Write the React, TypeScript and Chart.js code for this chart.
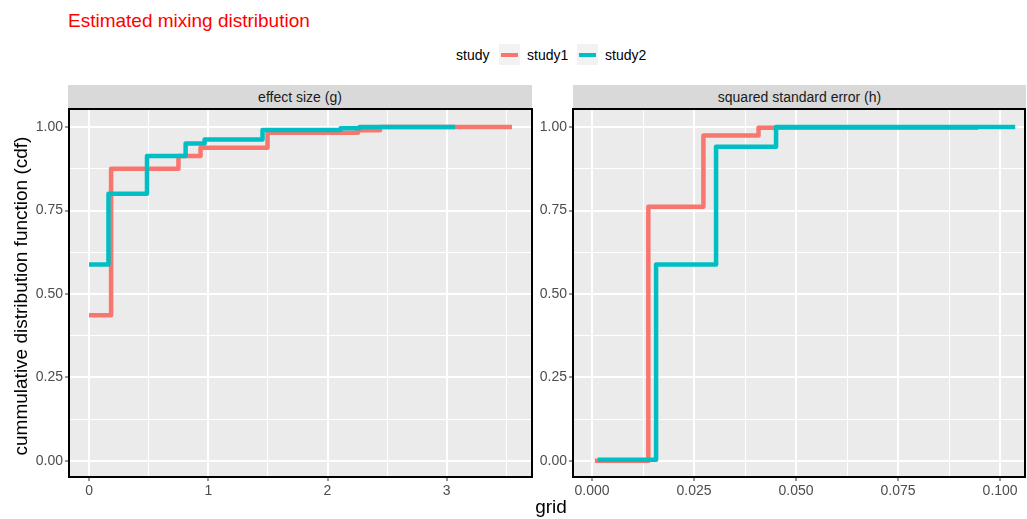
import React, { useEffect, useRef } from "react";
import { Chart, registerables } from "chart.js";

Chart.register(...registerables);

// ---------- data ----------
const TITLE = "Estimated mixing distribution";
const LEGEND_TITLE = "study";
const SERIES_NAMES = ["study1", "study2"];
const SERIES_COLORS = ["#F8766D", "#00BFC4"];
const PANEL_TITLES = ["effect size (g)", "squared standard error (h)"];
const X_TITLE = "grid";
const Y_TITLE = "cummulative distribution function (cdf)";

// effect size (g) panel
const gStudy1X = [0, 0.185, 0.75, 0.935, 1.497, 2.255, 2.44, 3.547];
const gStudy1Y = [0.436, 0.875, 0.913, 0.938, 0.983, 0.99, 1.0, 1.0];
const gStudy2X = [0, 0.163, 0.486, 0.81, 0.969, 1.455, 2.11, 2.27, 3.07];
const gStudy2Y = [0.588, 0.8, 0.913, 0.951, 0.963, 0.991, 0.996, 1.0, 1.0];

// squared standard error (h) panel
const hStudy1X = [0.0007, 0.0138, 0.0273, 0.0408, 0.0946];
const hStudy1Y = [0.001, 0.761, 0.975, 0.998, 0.998];
const hStudy2X = [0.0014, 0.0157, 0.0304, 0.0451, 0.1037];
const hStudy2Y = [0.004, 0.588, 0.941, 1.0, 1.0];

// ticks
const gXMajor = [0, 1, 2, 3];
const gXMajorLabels = ["0", "1", "2", "3"];
const gXMinor = [0.5, 1.5, 2.5, 3.5];
const hXMajor = [0, 0.025, 0.05, 0.075, 0.1];
const hXMajorLabels = ["0.000", "0.025", "0.050", "0.075", "0.100"];
const hXMinor = [0.0125, 0.0375, 0.0625, 0.0875];
const yMajor = [0, 0.25, 0.5, 0.75, 1];
const yMajorLabels = ["0.00", "0.25", "0.50", "0.75", "1.00"];
const yMinor = [0.125, 0.375, 0.625, 0.875];

const gXRange = [-0.168, 3.715];
const hXRange = [-0.00466, 0.1061];
const yRange = [-0.048, 1.054];

const FONT = "'Liberation Sans', Arial, Helvetica, sans-serif";

function pts(xs: number[], ys: number[]) {
  return xs.map((x, i) => ({ x, y: ys[i] }));
}

function findLabel(v: number, majors: number[], labels: string[]) {
  const i = majors.findIndex((m) => Math.abs(m - v) < 1e-9);
  return i >= 0 ? labels[i] : "";
}

function isMajor(v: number, majors: number[]) {
  return majors.some((m) => Math.abs(m - v) < 1e-9);
}

const panelPlugin = {
  id: "panelBg",
  beforeDraw(chart: any) {
    const { ctx, chartArea: a } = chart;
    ctx.save();
    ctx.fillStyle = "#EBEBEB";
    ctx.fillRect(a.left, a.top, a.right - a.left, a.bottom - a.top);
    ctx.restore();
  },
  afterDraw(chart: any) {
    const { ctx, chartArea: a } = chart;
    ctx.save();
    ctx.strokeStyle = "#000000";
    ctx.lineWidth = 2;
    ctx.strokeRect(a.left, a.top, a.right - a.left, a.bottom - a.top);
    ctx.restore();
  },
};

type PanelProps = {
  left: number;
  width: number;
  yAxisWidth: number;
  padRight: number;
  s1: { x: number; y: number }[];
  s2: { x: number; y: number }[];
  xRange: number[];
  xMajor: number[];
  xMinor: number[];
  xLabels: string[];
};

function Panel(p: PanelProps) {
  const ref = useRef<HTMLCanvasElement | null>(null);
  const TOP = 104;
  const HEIGHT = 396;
  useEffect(() => {
    if (!ref.current) return;
    const xTicks = [...p.xMajor, ...p.xMinor].sort((a, b) => a - b);
    const yTicks = [...yMajor, ...yMinor].sort((a, b) => a - b);
    const gridStyle = (majors: number[]) => ({
      color: "#FFFFFF",
      lineWidth: (c: any) => (c.tick && isMajor(c.tick.value, majors) ? 2 : 1),
      tickColor: (c: any) =>
        c.tick && isMajor(c.tick.value, majors) ? "#333333" : "rgba(0,0,0,0)",
      tickWidth: 1,
      tickLength: 4,
      drawTicks: true,
    });
    const ds = (i: number, data: { x: number; y: number }[]) => ({
      label: SERIES_NAMES[i],
      data,
      borderColor: SERIES_COLORS[i],
      backgroundColor: SERIES_COLORS[i],
      borderWidth: 4.5,
      stepped: "before",
      pointRadius: 0,
      fill: false,
      borderCapStyle: "butt",
      borderJoinStyle: "round",
      order: i === 0 ? 1 : 0,
    });
    const chart = new Chart(ref.current, {
      type: "line",
      data: { datasets: [ds(0, p.s1), ds(1, p.s2)] },
      options: {
        animation: false,
        responsive: false,
        maintainAspectRatio: false,
        devicePixelRatio: 1,
        layout: { padding: { top: 5, right: p.padRight, left: 0, bottom: 0 } },
        plugins: {
          legend: { display: false },
          tooltip: { enabled: false },
          title: { display: false },
        },
        scales: {
          x: {
            type: "linear",
            min: p.xRange[0],
            max: p.xRange[1],
            afterBuildTicks: (s: any) => {
              s.ticks = xTicks.map((v) => ({ value: v }));
            },
            afterFit: (s: any) => {
              s.height = HEIGHT - 5 - 368;
              s.paddingLeft = 0;
              s.paddingRight = 0;
            },
            ticks: {
              autoSkip: false,
              maxRotation: 0,
              padding: 2,
              color: "#4D4D4D",
              font: { family: FONT, size: 14 },
              callback: (v: any) => findLabel(Number(v), p.xMajor, p.xLabels),
            },
            grid: gridStyle(p.xMajor),
            border: { display: false },
          },
          y: {
            type: "linear",
            min: yRange[0],
            max: yRange[1],
            afterBuildTicks: (s: any) => {
              s.ticks = yTicks.map((v) => ({ value: v }));
            },
            afterFit: (s: any) => {
              s.width = p.yAxisWidth;
              s.paddingTop = 0;
              s.paddingBottom = 0;
            },
            ticks: {
              autoSkip: false,
              padding: 2,
              color: "#4D4D4D",
              font: { family: FONT, size: 14 },
              callback: (v: any) => findLabel(Number(v), yMajor, yMajorLabels),
            },
            grid: gridStyle(yMajor),
            border: { display: false },
          },
        },
      },
      plugins: [panelPlugin],
    } as any);
    return () => chart.destroy();
  }, []);
  return (
    <canvas
      ref={ref}
      width={p.width}
      height={HEIGHT}
      style={{ position: "absolute", left: p.left, top: TOP, width: p.width, height: HEIGHT }}
    />
  );
}

function Strip({ left, width, text }: { left: number; width: number; text: string }) {
  return (
    <div
      style={{
        position: "absolute",
        left,
        top: 85,
        width,
        height: 24,
        background: "#D9D9D9",
        color: "#1A1A1A",
        fontSize: 14,
        display: "flex",
        alignItems: "center",
        justifyContent: "center",
      }}
    >
      {text}
    </div>
  );
}

function LegendKey({ left, color }: { left: number; color: string }) {
  return (
    <div style={{ position: "absolute", left, top: 44, width: 21, height: 21, background: "#F2F2F2" }}>
      <div style={{ position: "absolute", left: 2, top: 8.5, width: 17, height: 4.5, background: color }} />
    </div>
  );
}

export default function App() {
  return (
    <div
      style={{
        position: "fixed",
        left: 0,
        top: 0,
        width: 1027,
        height: 519,
        background: "#FFFFFF",
        overflow: "hidden",
        fontFamily: FONT,
      }}
    >
      <div style={{ position: "absolute", left: 68, top: 10.8, fontSize: 19, lineHeight: "19px", color: "#FF0000", whiteSpace: "nowrap" }}>
        {TITLE}
      </div>

      <div style={{ position: "absolute", left: 456, top: 48, fontSize: 14, lineHeight: "14px", color: "#000", whiteSpace: "nowrap" }}>
        {LEGEND_TITLE}
      </div>
      <LegendKey left={499} color={SERIES_COLORS[0]} />
      <div style={{ position: "absolute", left: 527, top: 48, fontSize: 14, lineHeight: "14px", color: "#000", whiteSpace: "nowrap" }}>
        {SERIES_NAMES[0]}
      </div>
      <LegendKey left={577} color={SERIES_COLORS[1]} />
      <div style={{ position: "absolute", left: 605, top: 48, fontSize: 14, lineHeight: "14px", color: "#000", whiteSpace: "nowrap" }}>
        {SERIES_NAMES[1]}
      </div>

      <Strip left={68} width={464} text={PANEL_TITLES[0]} />
      <Strip left={573} width={453} text={PANEL_TITLES[1]} />

      <Panel
        left={0}
        width={536}
        yAxisWidth={69}
        padRight={4}
        s1={pts(gStudy1X, gStudy1Y)}
        s2={pts(gStudy2X, gStudy2Y)}
        xRange={gXRange}
        xMajor={gXMajor}
        xMinor={gXMinor}
        xLabels={gXMajorLabels}
      />
      <Panel
        left={533}
        width={494}
        yAxisWidth={40}
        padRight={2}
        s1={pts(hStudy1X, hStudy1Y)}
        s2={pts(hStudy2X, hStudy2Y)}
        xRange={hXRange}
        xMajor={hXMajor}
        xMinor={hXMinor}
        xLabels={hXMajorLabels}
      />

      <div style={{ position: "absolute", left: 451, top: 497, width: 200, textAlign: "center", fontSize: 19, lineHeight: "19px", color: "#000" }}>
        {X_TITLE}
      </div>
      <div
        style={{
          position: "absolute",
          left: 21 - 250,
          top: 296 - 10,
          width: 500,
          height: 20,
          lineHeight: "20px",
          fontSize: 19,
          textAlign: "center",
          color: "#000",
          transform: "rotate(-90deg)",
          whiteSpace: "nowrap",
        }}
      >
        {Y_TITLE}
      </div>
    </div>
  );
}
